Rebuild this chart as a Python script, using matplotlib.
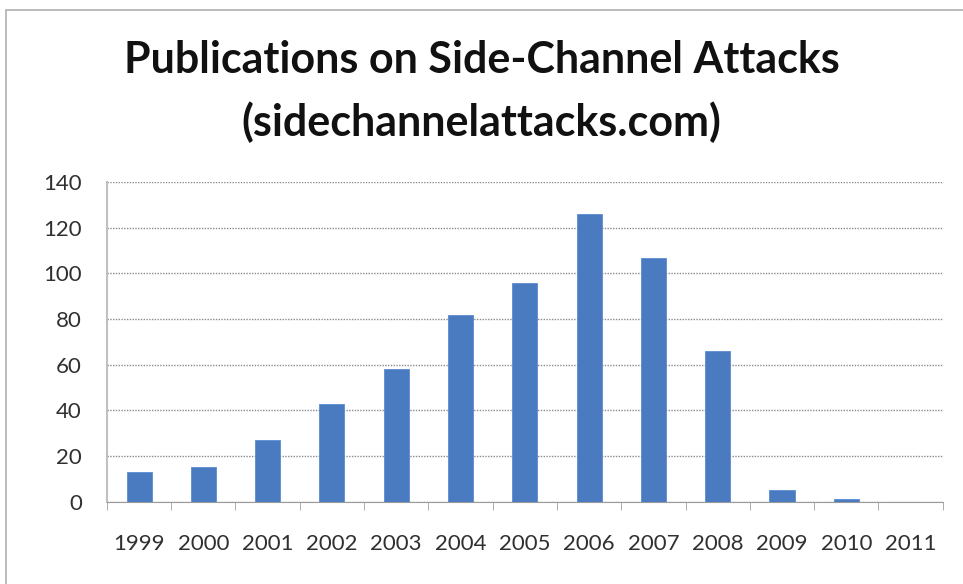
import numpy as np
import matplotlib.pyplot as plt
from matplotlib.patches import Rectangle

years = ["1999", "2000", "2001", "2002", "2003", "2004", "2005",
         "2006", "2007", "2008", "2009", "2010", "2011"]
publications = [13, 15, 27, 43, 58, 82, 96, 126, 107, 66, 5, 1, 0]
y_ticks = [0, 20, 40, 60, 80, 100, 120, 140]

plt.rcParams['font.family'] = ['Lato', 'DejaVu Sans']

fig = plt.figure(figsize=(9.63, 5.84), dpi=100)
ax = fig.add_axes([0.111, 0.141, 0.868, 0.547])

# chart area border, running off the right and bottom edges
fig.patches.append(Rectangle((6 / 963, -0.05), 1.0, 1 - 10 / 584 + 0.05,
                             transform=fig.transFigure, fill=False,
                             edgecolor='#b0b0b0', lw=1.2))

x = np.arange(len(years))
ax.bar(x, publications, width=0.39, color='#4a7bc0', edgecolor='#5b8bd0',
       lw=0.6, zorder=3)

ax.set_xlim(-0.5, len(years) - 0.5)
ax.set_ylim(0, 140)
ax.set_yticks(y_ticks)
ax.set_xticks(x)
ax.set_xticklabels(years)
ax.set_xticks(np.arange(-0.5, len(years), 1.0), minor=True)

ax.grid(axis='y', color='#8a8a8a', lw=1.0, linestyle=(0, (1, 1)), zorder=0)
ax.tick_params(axis='x', which='major', length=0, pad=23,
               labelsize=16, labelcolor='#303030')
ax.tick_params(axis='x', which='minor', length=6, color='#a0a0a0')
ax.tick_params(axis='y', length=0, pad=18, labelsize=16, labelcolor='#303030')

for side in ['top', 'right']:
    ax.spines[side].set_visible(False)
ax.spines['left'].set_color('#c0c0c0')
ax.spines['left'].set_linewidth(1.5)
ax.spines['bottom'].set_color('#9a9a9a')
ax.spines['bottom'].set_linestyle((0, (1, 1)))

fig.text(0.5, 0.897, "Publications on Side-Channel Attacks", ha='center',
         va='center', fontsize=31, fontweight='bold', color='#111111')
fig.text(0.5, 0.79, "(sidechannelattacks.com)", ha='center',
         va='center', fontsize=31, fontweight='bold', color='#111111')

fig.savefig("out.png", dpi=100)
